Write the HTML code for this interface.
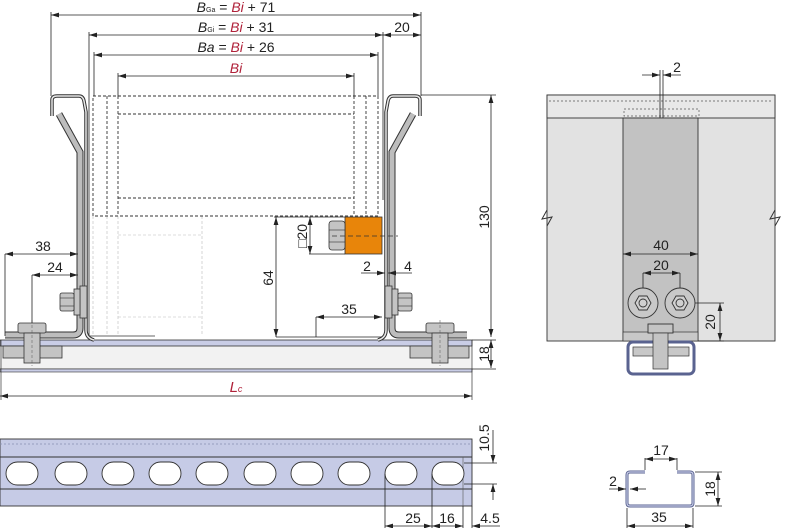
<!DOCTYPE html>
<html><head><meta charset="utf-8"><style>
html,body{margin:0;padding:0;background:#fff;}
svg{display:block;font-family:"Liberation Sans",sans-serif;}
</style></head><body>
<svg width="800" height="528" viewBox="0 0 800 528" xmlns="http://www.w3.org/2000/svg">
<defs>
<marker id="a" viewBox="0 0 10 6" refX="10" refY="3" markerWidth="10" markerHeight="6" orient="auto-start-reverse"><path d="M0,0 L10,3 L0,6 z" fill="#222"/></marker>
<g id="chan">
  <path d="M52,116 L52,100 Q52,96 57,96 L79,96 Q83,96 84,101 L86,112 L86,330 Q86,338 94,340" fill="none" stroke="#333" stroke-width="3.5"/>
  <path d="M52,116 L52,100 Q52,96 57,96 L79,96 Q83,96 84,101 L86,112 L86,330 Q86,338 94,340" fill="none" stroke="#e8e8e8" stroke-width="1.5"/>
  <path d="M59,114 L80,152 L80,328 Q80,335 73,335 L5,335" fill="none" stroke="#333" stroke-width="7"/>
  <path d="M59,114 L80,152 L80,328 Q80,335 73,335 L5,335" fill="none" stroke="#bdbdbd" stroke-width="5"/>
  <!-- side bolt -->
  <rect x="80" y="286" width="7" height="32" fill="#c4c4c4" stroke="#333" stroke-width="0.8"/>
  <rect x="74" y="289" width="6" height="26" fill="#c4c4c4" stroke="#333" stroke-width="0.8"/>
  <rect x="60" y="293" width="14" height="18" rx="2" fill="#c4c4c4" stroke="#333" stroke-width="0.8"/>
  <line x1="60" y1="298" x2="74" y2="298" stroke="#333" stroke-width="0.6"/><line x1="60" y1="306" x2="74" y2="306" stroke="#333" stroke-width="0.6"/>
  <!-- base bolt -->
  <rect x="3" y="346" width="59" height="12" fill="#c4c4c4" stroke="#333" stroke-width="0.8"/>
  <rect x="18" y="323" width="28" height="10" rx="2" fill="#c4c4c4" stroke="#333" stroke-width="0.8"/>
  <rect x="24" y="333" width="16" height="30" fill="#c4c4c4" stroke="#333" stroke-width="0.8"/>
  <line x1="32" y1="320" x2="32" y2="366" stroke="#555" stroke-width="0.5" stroke-dasharray="3,2"/>
</g>
</defs>

<!-- base rail -->
<rect x="0" y="340" width="472" height="32" fill="#f2f2f2"/>
<rect x="0" y="340" width="472" height="6" fill="#c9cde6" stroke="#333" stroke-width="0.8"/>
<line x1="0" y1="369" x2="472" y2="369" stroke="#333" stroke-width="0.8"/>
<rect x="0" y="369" width="472" height="3" fill="#c9cde6" stroke="#333" stroke-width="0.6"/>
<line x1="472" y1="340" x2="472" y2="400" stroke="#333" stroke-width="0.7"/>
<line x1="0" y1="396" x2="472" y2="396" stroke="#222" stroke-width="0.8" marker-start="url(#a)" marker-end="url(#a)"/>
<line x1="1" y1="340" x2="1" y2="400" stroke="#333" stroke-width="0.7"/>
<text x="236" y="392" font-size="15" fill="#b0223a" font-style="italic" text-anchor="middle">L<tspan font-size="9">c</tspan></text>

<!-- faint lower roller lines -->
<g stroke="#bbb" stroke-width="0.6" stroke-dasharray="3,2" fill="none">
<line x1="93" y1="216" x2="93" y2="336"/><line x1="107" y1="216" x2="107" y2="336"/><line x1="118" y1="216" x2="118" y2="336"/>
<line x1="118" y1="235" x2="202" y2="235"/><line x1="118" y1="317" x2="202" y2="317"/><line x1="202" y1="216" x2="202" y2="336"/>
</g>
<line x1="86" y1="336" x2="155" y2="336" stroke="#333" stroke-width="0.8"/>

<!-- roller dashed -->
<g stroke="#333" stroke-width="0.9" stroke-dasharray="3,2" fill="none">
<rect x="93" y="96" width="285" height="120"/>
<line x1="107" y1="96" x2="107" y2="216"/><line x1="366" y1="96" x2="366" y2="216"/>
<line x1="118" y1="96" x2="118" y2="216"/><line x1="354" y1="96" x2="354" y2="216"/>
<line x1="118" y1="114" x2="354" y2="114"/><line x1="118" y1="198" x2="354" y2="198"/>
</g>

<use href="#chan"/>
<use href="#chan" transform="translate(472,0) scale(-1,1)"/>

<!-- orange block -->
<rect x="345" y="217" width="37" height="37" fill="#e8850a" stroke="#333" stroke-width="0.8"/>
<rect x="329" y="221" width="16" height="29" rx="3" fill="#c4c4c4" stroke="#333" stroke-width="0.8"/>
<line x1="329" y1="230" x2="345" y2="230" stroke="#333" stroke-width="0.6"/><line x1="329" y1="242" x2="345" y2="242" stroke="#333" stroke-width="0.6"/>
<line x1="332" y1="236" x2="398" y2="236" stroke="#333" stroke-width="0.7" stroke-dasharray="5,3"/>

<!-- top dims -->
<g stroke="#222" stroke-width="0.8" fill="none">
<line x1="51" y1="15" x2="421" y2="15" marker-start="url(#a)" marker-end="url(#a)"/>
<line x1="51" y1="12" x2="51" y2="96"/><line x1="421" y1="12" x2="421" y2="96"/>
<line x1="89" y1="35" x2="383" y2="35" marker-start="url(#a)" marker-end="url(#a)"/>
<line x1="89" y1="32" x2="89" y2="336"/><line x1="383" y1="32" x2="383" y2="200"/>
<line x1="383" y1="35" x2="421" y2="35" marker-start="url(#a)" marker-end="url(#a)"/>
<line x1="94" y1="55" x2="378" y2="55" marker-start="url(#a)" marker-end="url(#a)"/>
<line x1="94" y1="52" x2="94" y2="96"/><line x1="378" y1="52" x2="378" y2="96"/>
<line x1="118" y1="76" x2="354" y2="76" marker-start="url(#a)" marker-end="url(#a)"/>
<line x1="118" y1="73" x2="118" y2="96"/><line x1="354" y1="73" x2="354" y2="96"/>
<line x1="421" y1="95" x2="496" y2="95"/>
<line x1="491" y1="95" x2="491" y2="337" marker-start="url(#a)" marker-end="url(#a)"/>
<line x1="491" y1="340" x2="491" y2="368" marker-start="url(#a)" marker-end="url(#a)"/>
<line x1="472" y1="340" x2="496" y2="340"/><line x1="472" y1="369" x2="496" y2="369"/>
<line x1="5" y1="254" x2="78" y2="254" marker-start="url(#a)" marker-end="url(#a)"/>
<line x1="5" y1="254" x2="5" y2="336"/>
<line x1="32" y1="275" x2="78" y2="275" marker-start="url(#a)" marker-end="url(#a)"/>
<line x1="32" y1="275" x2="32" y2="323"/>
<line x1="274" y1="217" x2="345" y2="217"/>
<line x1="276" y1="217" x2="276" y2="337" marker-start="url(#a)" marker-end="url(#a)"/>
<line x1="309" y1="254" x2="345" y2="254"/>
<line x1="310" y1="217" x2="310" y2="254" marker-start="url(#a)" marker-end="url(#a)"/>
<line x1="276" y1="337" x2="382" y2="337"/>
<line x1="316" y1="317" x2="382" y2="317" marker-start="url(#a)" marker-end="url(#a)"/>
<line x1="316" y1="317" x2="316" y2="337"/>
<line x1="361" y1="273" x2="385" y2="273" marker-end="url(#a)"/>
<line x1="412" y1="273" x2="388" y2="273" marker-end="url(#a)"/>
</g>
<g font-size="14" fill="#222" text-anchor="middle">
<text x="236" y="12"><tspan font-style="italic">B</tspan><tspan font-size="7">Ga</tspan> = <tspan fill="#b0223a" font-style="italic">Bi</tspan> + 71</text>
<text x="236" y="32"><tspan font-style="italic">B</tspan><tspan font-size="7">Gi</tspan> = <tspan fill="#b0223a" font-style="italic">Bi</tspan> + 31</text>
<text x="236" y="52"><tspan font-style="italic">Ba</tspan> = <tspan fill="#b0223a" font-style="italic">Bi</tspan> + 26</text>
<text x="236" y="73" fill="#b0223a" font-style="italic">Bi</text>
<text x="402" y="32">20</text>
<text x="43" y="251">38</text>
<text x="55" y="272">24</text>
<text x="349" y="314">35</text>
<text x="367" y="271">2</text>
<text x="408" y="271">4</text>
<text x="0" y="0" transform="translate(489,217) rotate(-90)">130</text>
<text x="0" y="0" transform="translate(489,354) rotate(-90)">18</text>
<text x="0" y="0" transform="translate(273,278) rotate(-90)">64</text>
<text x="0" y="0" transform="translate(307,236) rotate(-90)">□20</text>
</g>

<!-- right side view -->
<rect x="547" y="95" width="228" height="246" fill="#e2e2e2" stroke="#333" stroke-width="0.9"/>
<rect x="547" y="95" width="228" height="23" fill="#e8e8e8" stroke="#333" stroke-width="0.9"/>
<line x1="549" y1="101" x2="773" y2="101" stroke="#555" stroke-width="0.7" stroke-dasharray="2,2"/>
<rect x="623" y="118" width="75" height="223" fill="#c2c2c2" stroke="#333" stroke-width="0.9"/>
<rect x="623" y="332" width="75" height="9" fill="#c8c8c8" stroke="#333" stroke-width="0.7"/>
<rect x="624" y="109" width="75" height="7" fill="none" stroke="#555" stroke-width="0.7" stroke-dasharray="2,2"/>
<path d="M547,210 L542,219 L552,217 L547,226" fill="none" stroke="#333" stroke-width="1"/>
<path d="M775,210 L770,219 L780,217 L775,226" fill="none" stroke="#333" stroke-width="1"/>
<g stroke="#222" stroke-width="0.8" fill="none">
<line x1="660" y1="70" x2="660" y2="118"/><line x1="663" y1="70" x2="663" y2="118"/>
<line x1="642" y1="75" x2="660" y2="75" marker-end="url(#a)"/>
<line x1="681" y1="75" x2="663" y2="75" marker-end="url(#a)"/>
<line x1="623" y1="254" x2="698" y2="254" marker-start="url(#a)" marker-end="url(#a)"/>
<line x1="643" y1="273" x2="680" y2="273" marker-start="url(#a)" marker-end="url(#a)"/>
<line x1="643" y1="273" x2="643" y2="300"/><line x1="680" y1="273" x2="680" y2="300"/>
<line x1="685" y1="303" x2="724" y2="303"/><line x1="698" y1="341" x2="724" y2="341"/>
<line x1="720" y1="303" x2="720" y2="341" marker-start="url(#a)" marker-end="url(#a)"/>
</g>
<g stroke="#333" stroke-width="0.9">
<circle cx="643" cy="303" r="15" fill="#c8c8c8"/><circle cx="680" cy="303" r="15" fill="#c8c8c8"/>
<polygon points="635,303 639,296 647,296 651,303 647,310 639,310" fill="#d0d0d0"/>
<polygon points="672,303 676,296 684,296 688,303 684,310 676,310" fill="#d0d0d0"/>
<circle cx="643" cy="303" r="4" fill="none"/><circle cx="680" cy="303" r="4" fill="none"/>
<rect x="648" y="324" width="25" height="9" fill="#c4c4c4"/>
<rect x="628" y="342" width="66" height="32" rx="5" fill="none" stroke="#5a6390" stroke-width="3"/>
<rect x="633" y="347" width="56" height="9" fill="#c8c8c8" stroke-width="0.7"/>
<rect x="653" y="333" width="15" height="36" fill="#c4c4c4" stroke-width="0.7"/>
</g>
<g font-size="14" fill="#222" text-anchor="middle">
<text x="677" y="72">2</text>
<text x="661" y="250">40</text>
<text x="661" y="270">20</text>
<text x="0" y="0" transform="translate(715,322) rotate(-90)">20</text>
</g>

<!-- bottom rail -->
<rect x="0" y="439" width="472" height="67" fill="#c6cbe6" stroke="#333" stroke-width="0.9"/>
<line x1="0" y1="444" x2="472" y2="444" stroke="#8890b0" stroke-width="0.7" stroke-dasharray="2,2"/>
<line x1="0" y1="457" x2="472" y2="457" stroke="#333" stroke-width="0.9"/>
<line x1="0" y1="489" x2="472" y2="489" stroke="#333" stroke-width="0.9"/>
<line x1="463" y1="457" x2="463" y2="506" stroke="#555" stroke-width="0.6"/>
<g fill="#fff" stroke="#333" stroke-width="0.9">
<rect x="6" y="462" width="32" height="23" rx="11.5"/><rect x="55" y="462" width="32" height="23" rx="11.5"/>
<rect x="102" y="462" width="32" height="23" rx="11.5"/><rect x="149" y="462" width="32" height="23" rx="11.5"/>
<rect x="196" y="462" width="32" height="23" rx="11.5"/><rect x="244" y="462" width="32" height="23" rx="11.5"/>
<rect x="291" y="462" width="32" height="23" rx="11.5"/><rect x="338" y="462" width="32" height="23" rx="11.5"/>
<rect x="385" y="462" width="32" height="23" rx="11.5"/><rect x="432" y="462" width="32" height="23" rx="11.5"/>
</g>
<g stroke="#222" stroke-width="0.8" fill="none">
<line x1="464" y1="463" x2="497" y2="463"/><line x1="464" y1="484" x2="497" y2="484"/>
<line x1="493" y1="430" x2="493" y2="463" marker-end="url(#a)"/>
<line x1="493" y1="500" x2="493" y2="484" marker-end="url(#a)"/>
<line x1="385" y1="474" x2="385" y2="528"/><line x1="432" y1="474" x2="432" y2="528"/>
<line x1="463" y1="506" x2="463" y2="528"/><line x1="472" y1="506" x2="472" y2="528"/>
<line x1="385" y1="526" x2="432" y2="526" marker-start="url(#a)" marker-end="url(#a)"/>
<line x1="432" y1="526" x2="463" y2="526" marker-start="url(#a)" marker-end="url(#a)"/>
<line x1="500" y1="526" x2="472" y2="526" marker-end="url(#a)"/>
</g>
<g font-size="14" fill="#222" text-anchor="middle">
<text x="413" y="523">25</text>
<text x="447" y="523">16</text>
<text x="490" y="523">4.5</text>
<text x="0" y="0" transform="translate(489,438) rotate(-90)">10.5</text>
</g>

<!-- cross-section -->
<path d="M645,472 L630,472 Q627,472 627,475 L627,503 Q627,506 630,506 L690,506 Q693,506 693,503 L693,475 Q693,472 690,472 L677,472" fill="none" stroke="#5a6390" stroke-width="3"/>
<path d="M645,472 L630,472 Q627,472 627,475 L627,503 Q627,506 630,506 L690,506 Q693,506 693,503 L693,475 Q693,472 690,472 L677,472" fill="none" stroke="#c6cbe6" stroke-width="1.2"/>
<g stroke="#222" stroke-width="0.8" fill="none">
<line x1="645" y1="458" x2="645" y2="470"/><line x1="677" y1="458" x2="677" y2="470"/>
<line x1="645" y1="459" x2="677" y2="459" marker-start="url(#a)" marker-end="url(#a)"/>
<line x1="695" y1="472" x2="722" y2="472"/><line x1="695" y1="506" x2="722" y2="506"/>
<line x1="718" y1="472" x2="718" y2="506" marker-start="url(#a)" marker-end="url(#a)"/>
<line x1="627" y1="508" x2="627" y2="528"/><line x1="693" y1="508" x2="693" y2="528"/>
<line x1="627" y1="526" x2="693" y2="526" marker-start="url(#a)" marker-end="url(#a)"/>
<line x1="609" y1="489" x2="626" y2="489" marker-end="url(#a)"/>
<line x1="646" y1="489" x2="630" y2="489" marker-end="url(#a)"/>
</g>
<g font-size="14" fill="#222" text-anchor="middle">
<text x="661" y="455">17</text>
<text x="613" y="486">2</text>
<text x="659" y="522">35</text>
<text x="0" y="0" transform="translate(715,489) rotate(-90)">18</text>
</g>
</svg>
</body></html>
